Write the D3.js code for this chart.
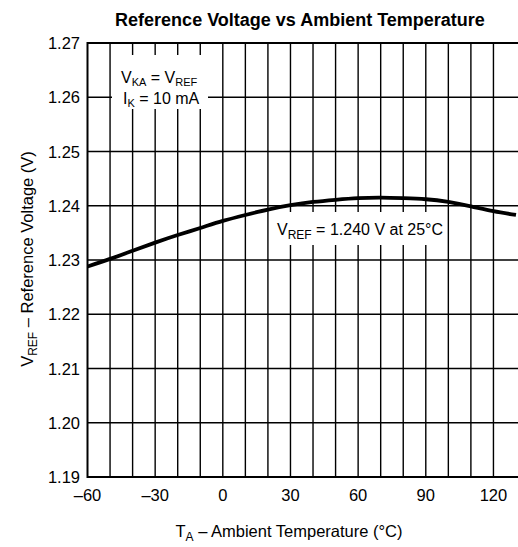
<!DOCTYPE html>
<html><head><meta charset="utf-8">
<script src="https://cdn.jsdelivr.net/npm/d3@7"></script>
<style>
html,body{margin:0;padding:0;background:#fff;}
svg{display:block;font-family:"Liberation Sans Narrow","Arial Narrow","Liberation Sans",Arial,sans-serif;}
</style></head>
<body>
<svg id="chart" width="518" height="547"></svg>
<script>
const temps = [-60,-50,-40,-30,-20,-10,0,10,20,30,40,50,60,70,80,90,100,110,120,130];
const vref  = [1.2288,1.2302,1.2317,1.2332,1.2346,1.2359,1.2372,1.2383,1.2393,1.2401,1.2407,1.2411,1.2414,1.2415,1.2414,1.2412,1.2407,1.2399,1.2390,1.2383];
const xTicks = [-60,-30,0,30,60,90,120];
const yTicks = [1.19,1.20,1.21,1.22,1.23,1.24,1.25,1.26,1.27];
const xGrid = [-50,-40,-30,-20,-10,0,10,20,30,40,50,60,70,80,90,100,110,120];

(function(){
const svg = d3.select("#chart");
const x = d3.scaleLinear().domain([-60,130]).range([87.5,516]);
const y = d3.scaleLinear().domain([1.19,1.27]).range([477,43]);
const pL = x(-60), pR = 520, pT = y(1.27), pB = y(1.19);

svg.append("defs").append("clipPath").attr("id","plot")
  .append("rect").attr("x",pL).attr("y",pT).attr("width",pR-pL).attr("height",pB-pT);

const grid = svg.append("g").attr("stroke","#000").attr("stroke-width",1.4);
grid.selectAll("line.v").data(xGrid).join("line").attr("class","v")
  .attr("x1",d=>x(d)).attr("x2",d=>x(d)).attr("y1",pT).attr("y2",pB);
grid.selectAll("line.h").data(yTicks.slice(1,-1)).join("line").attr("class","h")
  .attr("x1",pL).attr("x2",pR).attr("y1",d=>y(d)).attr("y2",d=>y(d));

svg.append("path").attr("fill","none").attr("stroke","#000").attr("stroke-width",2)
  .attr("d",`M${pR},${pT}H${pL}V${pB}H${pR}`);

const line = d3.line().x((d,i)=>x(temps[i])).y(d=>y(d)).curve(d3.curveNatural);
svg.append("path").datum(vref).attr("clip-path","url(#plot)")
  .attr("fill","none").attr("stroke","#000").attr("stroke-width",3.8).attr("d",line);

svg.append("rect").attr("x",112).attr("y",55).attr("width",96).attr("height",54).attr("fill","#fff");
svg.append("rect").attr("x",274).attr("y",212).attr("width",168).attr("height",33).attr("fill","#fff");

const fs = 16.5, ss = 11;
const t1 = svg.append("text").attr("x",121).attr("y",83).attr("font-size",16);
t1.append("tspan").text("V");
t1.append("tspan").attr("font-size",ss).attr("dy",3).text("KA");
t1.append("tspan").attr("dy",-3).text(" = V");
t1.append("tspan").attr("font-size",ss).attr("dy",3).text("REF");
const t2 = svg.append("text").attr("x",123).attr("y",104).attr("font-size",16);
t2.append("tspan").text("I");
t2.append("tspan").attr("font-size",ss).attr("dy",3).text("K");
t2.append("tspan").attr("dy",-3).text(" = 10 mA");
const t3 = svg.append("text").attr("x",277).attr("y",235).attr("font-size",16);
t3.append("tspan").text("V");
t3.append("tspan").attr("font-size",ss+1).attr("dy",4).text("REF");
t3.append("tspan").attr("dy",-4).text(" = 1.240 V at 25°C");

svg.append("g").selectAll("text").data(yTicks).join("text")
  .attr("x",80).attr("y",d=>y(d)+6).attr("text-anchor","end").attr("font-size",fs)
  .text(d=>d.toFixed(2));
svg.append("g").selectAll("text").data(xTicks).join("text")
  .attr("x",d=>x(d)).attr("y",501).attr("text-anchor","middle").attr("font-size",fs)
  .text(d=>d<0?"\u2013"+Math.abs(d):String(d));

svg.append("text").attr("x",300).attr("y",26).attr("text-anchor","middle")
  .attr("font-size",18).attr("font-weight","bold").text("Reference Voltage vs Ambient Temperature");

const xt = svg.append("text").attr("x",289).attr("y",537).attr("text-anchor","middle").attr("font-size",fs);
xt.append("tspan").text("T");
xt.append("tspan").attr("font-size",12).attr("dy",4).text("A");
xt.append("tspan").attr("dy",-4).text(" \u2013 Ambient Temperature (°C)");

const yt = svg.append("text").attr("transform","translate(33,259) rotate(-90)").attr("text-anchor","middle").attr("font-size",fs);
yt.append("tspan").text("V");
yt.append("tspan").attr("font-size",12).attr("dy",4).text("REF");
yt.append("tspan").attr("dy",-4).text(" \u2013 Reference Voltage (V)");
})();
</script>
</body></html>
